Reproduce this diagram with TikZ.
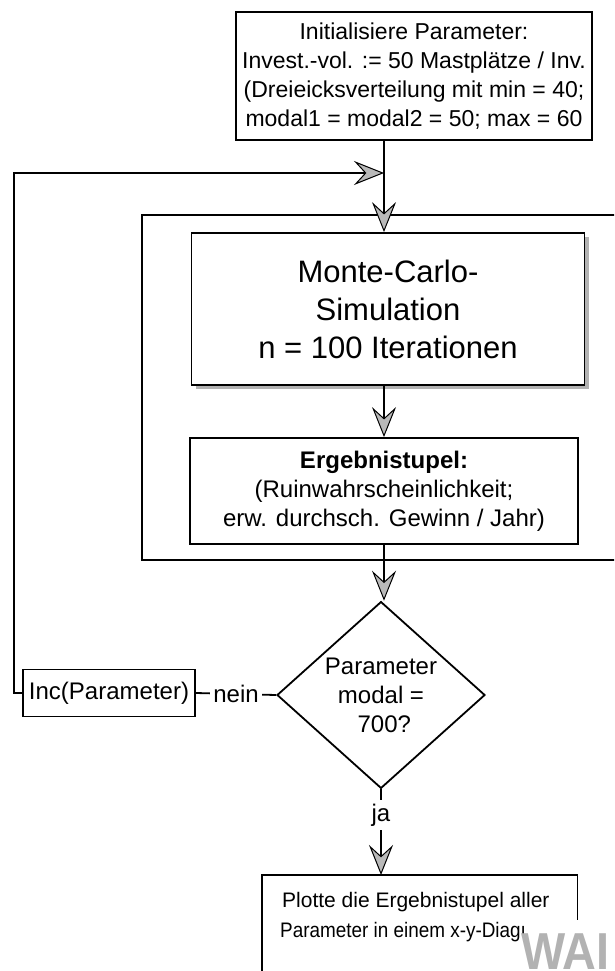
\documentclass[tikz,border=0pt]{standalone}
\usepackage{fontspec}
\setmainfont{Liberation Sans}
\usetikzlibrary{arrows.meta,shapes.geometric,shadows,calc}
\begin{document}
\begin{tikzpicture}[x=1pt,y=-1pt,
  box/.style={draw, line width=1.8pt, rectangle, inner sep=0pt, align=center, fill=white},
  conn/.style={line width=1.8pt},
  arr/.style={conn, -{Stealth[length=30pt,width=24pt,inset=11pt,fill=gray!55,line width=1pt]}},
  txt/.style={font=\fontsize{23}{29}\selectfont},
]
\useasboundingbox (0,0) rectangle (614,971);
\clip (0,0) rectangle (614,971);
\fill[white] (0,0) rectangle (614,971);

% start box
\node[box, minimum width=356pt, minimum height=128pt, txt] (init) at (414,76)
  {Initialisiere Parameter:\\ Invest.-vol. := 50 Mastplätze / Inv.\\ (Dreieicksverteilung mit min = 40;\\ modal1 = modal2 = 50; max = 60};

% group frame
\draw[conn] (630,215) -- (142,215) -- (142,560) -- (630,560);

% simulation
\node[box, minimum width=393pt, minimum height=152pt, font=\fontsize{31}{38}\selectfont,
  drop shadow={shadow xshift=4pt, shadow yshift=-4pt, fill=gray!60, opacity=1}] (mc) at (388,309)
  {Monte-Carlo-\\Simulation\\n = 100 Iterationen};

% results
\node[box, minimum width=388pt, minimum height=106pt, font=\fontsize{24}{29}\selectfont] (erg) at (384,491)
  {\textbf{Ergebnistupel:}\\(Ruinwahrscheinlichkeit;\\erw. durchsch. Gewinn / Jahr)};

% decision
\node[draw, line width=1.8pt, diamond, minimum width=208pt, minimum height=156pt, inner sep=0pt,
  align=center, font=\fontsize{24}{29}\selectfont] (dec) at (381,695)
  {Parameter\\modal =\\\ 700?};

% increment
\node[box, minimum width=172pt, minimum height=47pt, font=\fontsize{24}{29}\selectfont] (inc) at (109,693)
  {Inc(Parameter)};

% plot box
\node[inner sep=0pt, minimum width=315pt, minimum height=110pt, anchor=north west] (plot) at (262,875) {};
\node[inner sep=0pt, anchor=north west, align=left, font=\fontsize{21}{30}\selectfont] (plottxt) at (280,892)
  {\hspace*{2pt}Plotte die Ergebnistupel aller\\\scalebox{0.9}[1]{Parameter in einem x-y-Diagı}};
\draw[conn] (plot.south west) -- (plot.north west) -- (plot.north east) -- ($(plot.north east)+(0,45)$);

% watermark fragment
\node[font=\fontsize{52}{52}\selectfont\bfseries, text=gray!60, anchor=north west, inner sep=0pt] (wai) at (521,934) {\scalebox{0.9}[1]{WAI}};

% connectors
\coordinate (fb) at (384,173);
\draw[arr] (init.south -| erg.north) -- (mc.north -| erg.north);
\draw[arr] (inc.west) -- ++(-8,0) |- (fb);
\draw[arr] (mc.south -| erg.north) -- (erg.north);
\draw[arr] (erg.south) -- (erg.south |- dec.north);
\draw[conn] (dec.west) -- node[fill=white, inner sep=3pt, font=\fontsize{24}{29}\selectfont] (nein) {nein} (inc.east);
\draw[arr] (dec.south) -- node[pos=0.3, fill=white, inner sep=4pt, font=\fontsize{24}{29}\selectfont] (ja) {ja} (dec.south |- plot.north);
\end{tikzpicture}
\end{document}
